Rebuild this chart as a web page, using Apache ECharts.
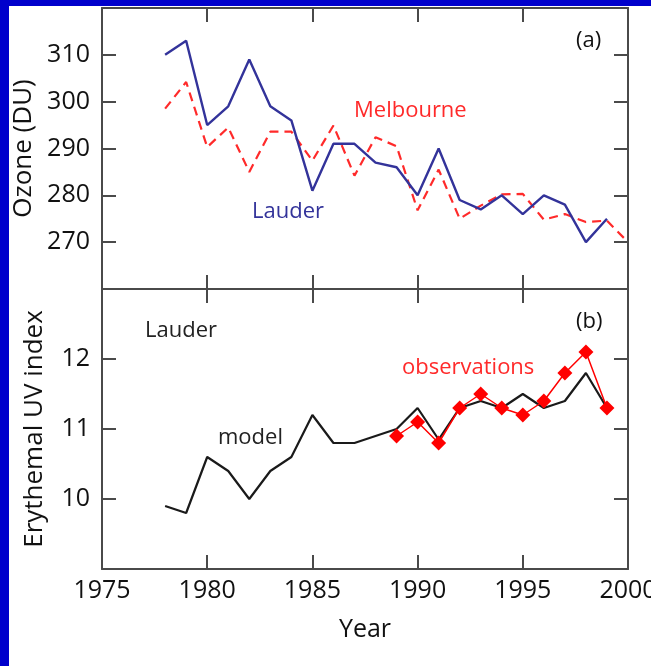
<!DOCTYPE html>
<html><head><meta charset="utf-8">
<script src="https://cdn.jsdelivr.net/npm/echarts@6/dist/echarts.min.js"></script>
<style>html,body{margin:0;padding:0;background:#fff}#c{width:651px;height:666px}</style>
</head><body><div id="c"></div>
<script>
// ---- data ----
const ozoneYears = [1978,1979,1980,1981,1982,1983,1984,1985,1986,1987,1988,1989,1990,1991,1992,1993,1994,1995,1996,1997,1998,1999];
const lauderOzone = [310,313,295,299,309,299,296,281,291,291,287,286,280,290,279,277,280,276,280,278,270,275];
const melbYears = [1978,1979,1980,1981,1982,1983,1984,1985,1986,1987,1988,1989,1990,1991,1992,1993,1994,1995,1996,1997,1998,1999,2000];
const melbourneOzone = [298.5,304.2,290.3,294.5,285,293.6,293.6,287.4,294.9,284.2,292.4,290.5,276.8,285.5,275,277.8,280.2,280.3,274.8,276,274.3,274.6,270];
const modelYears = [1978,1979,1980,1981,1982,1983,1984,1985,1986,1987,1988,1989,1990,1991,1992,1993,1994,1995,1996,1997,1998,1999];
const modelUV = [9.9,9.8,10.6,10.4,10.0,10.4,10.6,11.2,10.8,10.8,10.9,11.0,11.3,10.85,11.3,11.4,11.3,11.5,11.3,11.4,11.8,11.3];
const obsYears = [1989,1990,1991,1992,1993,1994,1995,1996,1997,1998,1999];
const obsUV = [10.9,11.1,10.8,11.3,11.5,11.3,11.2,11.4,11.8,12.1,11.3];
const xTicks = [1975,1980,1985,1990,1995,2000];
const ozoneTicks = [270,280,290,300,310];
const uvTicks = [10,11,12];

const pair = (xs, ys) => xs.map((x, i) => [x, ys[i]]);
const FONT = '"Open Sans", "DejaVu Sans", sans-serif';
const AX = '#4a4a4a';
const TXT = '#111111';

function xAx(gi, pos, labels) {
  return {
    type: 'value', gridIndex: gi, position: pos,
    min: xTicks[0], max: xTicks[xTicks.length-1], interval: 5,
    axisLine: {show: true, onZero: false, lineStyle: {color: AX, width: 2}},
    axisTick: {show: true, inside: true, length: 14, lineStyle: {color: AX, width: 2}},
    axisLabel: {show: labels, fontFamily: FONT, fontSize: 25, color: TXT, margin: 9,
      formatter: v => String(v)},
    splitLine: {show: false},
    name: labels ? 'Year' : '', nameLocation: 'middle', nameGap: 48,
    nameTextStyle: {fontFamily: FONT, fontSize: 25, color: TXT}
  };
}
function yAx(gi, pos, min, max, interval, labels, name, gap) {
  return {
    type: 'value', gridIndex: gi, position: pos, min: min, max: max, interval: interval,
    axisLine: {show: true, onZero: false, lineStyle: {color: AX, width: 2}},
    axisTick: {show: true, inside: true, length: 14, lineStyle: {color: AX, width: 2}},
    axisLabel: {show: labels, showMinLabel: false, showMaxLabel: false,
      fontFamily: FONT, fontSize: 25, color: TXT, margin: 12, formatter: v => String(v)},
    splitLine: {show: false},
    name: name || '', nameLocation: 'middle', nameGap: gap || 0, nameRotate: 90,
    nameTextStyle: {fontFamily: FONT, fontSize: 26, color: TXT}
  };
}

const chart = echarts.init(document.getElementById('c'), null, {renderer: 'canvas'});
chart.setOption({
  backgroundColor: '#ffffff',
  animation: false,
  grid: [
    {left: 102, top: 8, width: 526, height: 281, outerBoundsMode: 'none', containLabel: false},
    {left: 102, top: 289, width: 526, height: 280, outerBoundsMode: 'none', containLabel: false}
  ],
  xAxis: [xAx(0, 'bottom', false), xAx(0, 'top', false), xAx(1, 'bottom', true), xAx(1, 'top', false)],
  yAxis: [
    yAx(0, 'left', 260, 320, 10, true, 'Ozone (DU)', 62),
    yAx(0, 'right', 260, 320, 10, false),
    yAx(1, 'left', 9, 13, 1, true, 'Erythemal UV index', 54),
    yAx(1, 'right', 9, 13, 1, false)
  ],
  series: [
    {type: 'line', xAxisIndex: 0, yAxisIndex: 0, data: pair(ozoneYears, lauderOzone),
     symbol: 'none', lineStyle: {color: '#33339a', width: 2.4}, z: 3},
    {type: 'line', xAxisIndex: 0, yAxisIndex: 0, data: pair(melbYears, melbourneOzone),
     symbol: 'none', lineStyle: {color: '#ff2a2a', width: 2.2, type: [9, 6]}, z: 2},
    {type: 'line', xAxisIndex: 2, yAxisIndex: 2, data: pair(modelYears, modelUV),
     symbol: 'none', lineStyle: {color: '#1a1a1a', width: 2.2}, z: 2},
    {type: 'line', xAxisIndex: 2, yAxisIndex: 2, data: pair(obsYears, obsUV),
     symbol: 'diamond', symbolSize: 15, itemStyle: {color: '#ff0000'},
     lineStyle: {color: '#ff0000', width: 1.5}, z: 3}
  ],
  graphic: [
    {type: 'rect', shape: {x: 0, y: 0, width: 651, height: 6}, style: {fill: '#0000cc'}, z: 100},
    {type: 'rect', shape: {x: 0, y: 0, width: 9, height: 666}, style: {fill: '#0000cc'}, z: 100},
    {type: 'text', x: 576, y: 41, style: {text: '(a)', font: '22px ' + FONT, fill: '#111', textVerticalAlign: 'middle'}},
    {type: 'text', x: 576, y: 322, style: {text: '(b)', font: '22px ' + FONT, fill: '#111', textVerticalAlign: 'middle'}},
    {type: 'text', x: 354, y: 111, style: {text: 'Melbourne', font: '22px ' + FONT, fill: '#ff2a2a', textVerticalAlign: 'middle'}},
    {type: 'text', x: 252, y: 212, style: {text: 'Lauder', font: '22px ' + FONT, fill: '#33339a', textVerticalAlign: 'middle'}},
    {type: 'text', x: 145, y: 331, style: {text: 'Lauder', font: '22px ' + FONT, fill: '#222', textVerticalAlign: 'middle'}},
    {type: 'text', x: 218, y: 438, style: {text: 'model', font: '22px ' + FONT, fill: '#222', textVerticalAlign: 'middle'}},
    {type: 'text', x: 402, y: 368, style: {text: 'observations', font: '22px ' + FONT, fill: '#ff2a2a', textVerticalAlign: 'middle'}}
  ]
});
</script>
</body></html>
